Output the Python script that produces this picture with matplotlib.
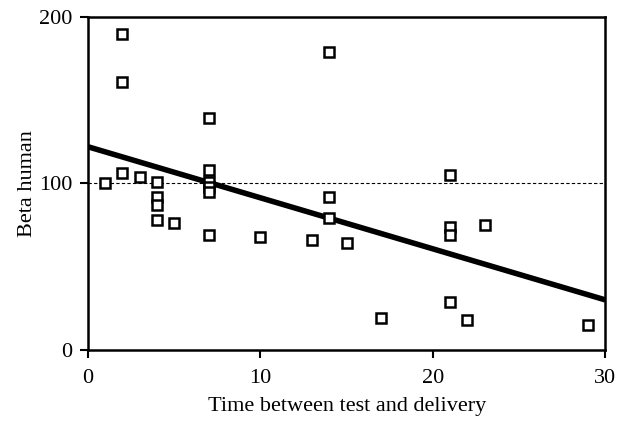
import numpy as np
import matplotlib
matplotlib.use("Agg")
import matplotlib.pyplot as plt

# データ
time_days = [1, 2, 2, 2, 3, 4, 4, 4, 4, 5,
             7, 7, 7, 7, 7, 7, 10, 13, 14, 14, 14, 15,
             17, 21, 21, 21, 21, 22, 23, 29]
beta_human = [100, 190, 161, 106, 104, 101, 92, 87, 78, 76,
              139, 108, 101, 98, 95, 69, 68, 66, 179, 92, 79, 64,
              19, 105, 74, 69, 29, 18, 75, 15]
fit_x = [0, 30]
fit_y = [122, 30]
ref_level = 100

plt.rcParams["font.family"] = ["Liberation Serif", "DejaVu Serif"]

fig = plt.figure(figsize=(6.24, 4.23), dpi=100)
ax = fig.add_axes([0.141, 0.173, 0.829, 0.787])

# 基準線・回帰直線・散布点
ax.axhline(ref_level, color="black", linestyle=(0, (3, 2)), linewidth=0.8, zorder=1)
ax.plot(fit_x, fit_y, color="black", linewidth=4, solid_capstyle="butt", zorder=2)
ax.plot(time_days, beta_human, linestyle="none", marker="s", markersize=6.5,
        markerfacecolor="white", markeredgecolor="black", markeredgewidth=1.8, zorder=3)

ax.set_xlim(0, 30)
ax.set_ylim(0, 200)
ax.set_xticks([0, 10, 20, 30])
ax.set_yticks([0, 100, 200])
ax.tick_params(labelsize=16, width=1.5, length=6, direction="out", pad=5)
ax.tick_params(axis="x", pad=8)
for s in ax.spines.values():
    s.set_linewidth(1.8)

ax.set_xlabel("Time between test and delivery", fontsize=16, labelpad=6)
ax.set_ylabel("Beta human", fontsize=16, labelpad=2)

fig.savefig("out.png", dpi=100)
